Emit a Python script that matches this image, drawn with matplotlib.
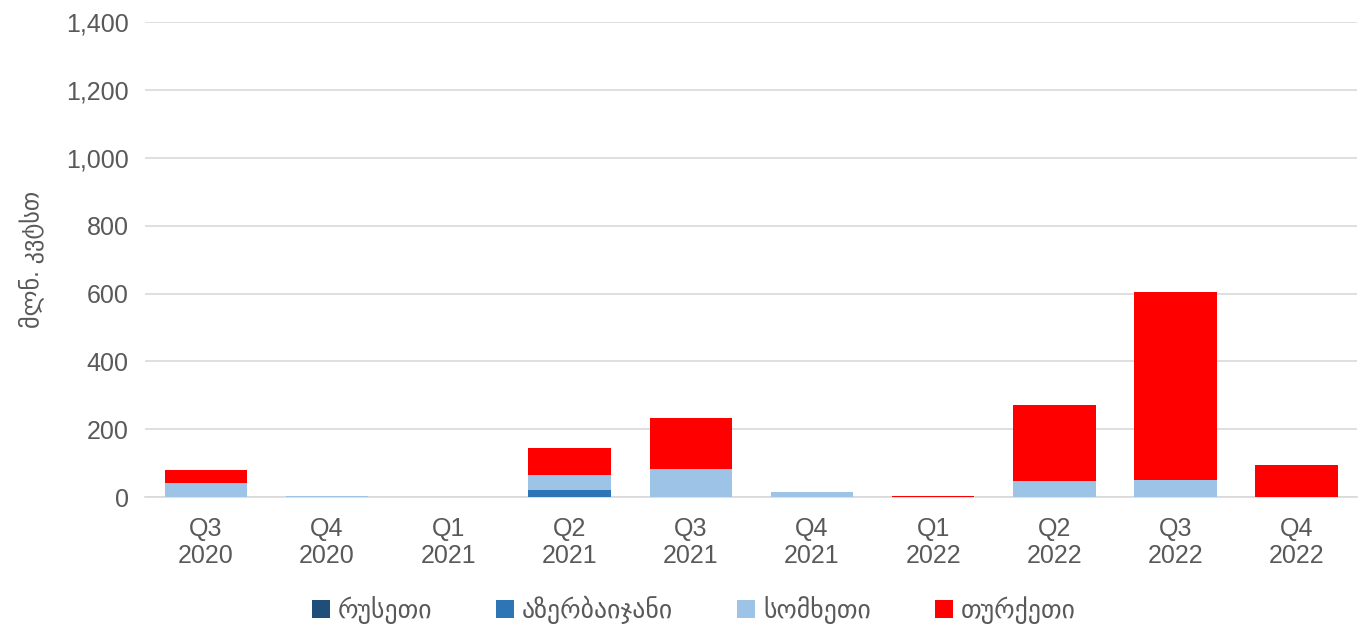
import matplotlib.pyplot as plt
import numpy as np

plt.rcParams['font.family'] = ['Liberation Sans', 'DejaVu Sans']

# Kvartale und Werte (mln kWh)
quarters = ['Q3\n2020', 'Q4\n2020', 'Q1\n2021', 'Q2\n2021', 'Q3\n2021',
            'Q4\n2021', 'Q1\n2022', 'Q2\n2022', 'Q3\n2022', 'Q4\n2022']
russia = [0, 2, 1, 2, 0, 0, 1, 0, 0, 0]
azerbaijan = [0, 0, 0, 18, 0, 0, 0, 0, 0, 0]
armenia = [41, 1, 1, 45, 84, 15, 1, 49, 52, 1]
turkey = [38, 0, 0, 80, 149, 0, 2, 222, 553, 95]

names = ['რუსეთი', 'აზერბაიჯანი', 'სომხეთი', 'თურქეთი']
colors = ['#1F4E79', '#2E75B6', '#9DC3E6', '#FF0000']

fig, ax = plt.subplots(figsize=(13.71, 6.31), dpi=100)
fig.subplots_adjust(left=0.106, right=0.99, top=0.965, bottom=0.212)

x = np.arange(len(quarters))
bottom = np.zeros(len(quarters))
for vals, name, col in zip([russia, azerbaijan, armenia, turkey], names, colors):
    ax.bar(x, vals, 0.68, bottom=bottom, color=col, label=name, zorder=3)
    bottom += np.array(vals)

ax.set_ylim(0, 1400)
ax.set_xlim(-0.5, 9.5)
ax.set_yticks(np.arange(0, 1401, 200))
ax.set_yticklabels([f'{v:,}' for v in range(0, 1401, 200)])
ax.set_xticks(x)
ax.set_xticklabels(quarters)
ax.tick_params(axis='both', length=0, labelsize=18, labelcolor='#595959')
ax.tick_params(axis='y', pad=12)
ax.tick_params(axis='x', pad=14)
ax.yaxis.grid(True, color='#D9D9D9', linewidth=1.2, zorder=0)
for s in ['top', 'right', 'left']:
    ax.spines[s].set_visible(False)
ax.spines['bottom'].set_color('#D9D9D9')
ax.spines['bottom'].set_linewidth(1.2)

ax.set_ylabel('მლნ. კვტსთ', fontsize=17.5, color='#595959', labelpad=16)

fig.legend(loc='center', bbox_to_anchor=(0.506, 0.033), ncol=4, frameon=False,
           fontsize=18.5, handlelength=0.7, handleheight=0.7, handletextpad=0.3,
           columnspacing=2.5, labelcolor='#595959')

plt.savefig('out.png')
